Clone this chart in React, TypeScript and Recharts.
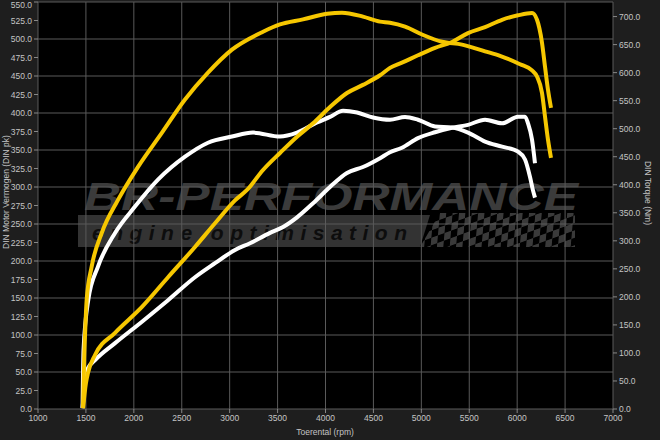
import React from 'react';
import { LineChart, Line, XAxis, YAxis, CartesianGrid } from 'recharts';

const stockPowerRpm = [1465, 1511, 1595, 1804, 2085, 2357, 2638, 2847, 3056, 3212, 3421, 3557, 3703, 3870, 4047, 4224, 4391, 4569, 4673, 4798, 4965, 5143, 5320, 5487, 5665, 5842, 6009, 6082, 6113, 6155, 6186];
const stockPowerPk = [1, 53, 66, 89, 118, 147, 178, 197, 215, 224, 238, 246, 259, 278, 300, 319, 327, 339, 347, 353, 366, 374, 380, 384, 391, 386, 395, 395, 386, 364, 332];

const stockTorqueRpm = [1465, 1475, 1525, 1626, 1804, 2012, 2252, 2534, 2774, 3024, 3244, 3525, 3703, 3911, 4047, 4183, 4329, 4496, 4673, 4830, 4965, 5143, 5320, 5487, 5665, 5842, 6009, 6082, 6134, 6165, 6186];
const stockTorqueNm = [2, 105, 195, 254, 314, 361, 409, 450, 475, 486, 493, 486, 493, 511, 521, 532, 529, 520, 516, 521, 516, 504, 502, 493, 477, 468, 459, 445, 414, 390, 377];

const tunedPowerRpm = [1470, 1500, 1522, 1595, 1804, 2085, 2357, 2638, 2847, 3056, 3181, 3348, 3525, 3703, 3870, 4047, 4224, 4391, 4569, 4673, 4798, 4965, 5143, 5320, 5487, 5665, 5842, 6009, 6155, 6207, 6259, 6291, 6322, 6353];
const tunedPowerPk = [1, 35, 49, 73, 103, 138, 178, 219, 251, 282, 296, 323, 346, 368, 386, 408, 427, 438, 451, 461, 468, 478, 488, 496, 508, 516, 526, 532, 535, 526, 495, 462, 431, 407];

const tunedTorqueRpm = [1470, 1482, 1495, 1508, 1560, 1665, 1835, 2044, 2294, 2534, 2774, 3024, 3348, 3525, 3765, 4016, 4172, 4391, 4569, 4673, 4830, 5007, 5216, 5425, 5665, 5821, 6030, 6155, 6207, 6259, 6291, 6322, 6353];
const tunedTorqueNm = [2, 90, 150, 195, 254, 314, 373, 432, 493, 552, 600, 641, 673, 686, 695, 705, 707, 700, 691, 689, 682, 668, 655, 650, 638, 630, 615, 604, 593, 564, 521, 480, 448];

const rpmTicks = [1000, 1500, 2000, 2500, 3000, 3500, 4000, 4500, 5000, 5500, 6000, 6500, 7000];
const pkTicks = [0, 25, 50, 75, 100, 125, 150, 175, 200, 225, 250, 275, 300, 325, 350, 375, 400, 425, 450, 475, 500, 525, 550];
const nmTicks = [0, 50, 100, 150, 200, 250, 300, 350, 400, 450, 500, 550, 600, 650, 700];

const toRows = (rpm: number[], v: number[]) => rpm.map((r, i) => ({ rpm: r, v: v[i] }));

const TXT = '#c4c4c4';
const FONT = '"Liberation Sans", Arial, sans-serif';
const tick = { fill: TXT, fontSize: 8.5, fontFamily: FONT };
const fmt = (v: number) => v.toFixed(1);

function Watermark() {
  return (
    <svg width={660} height={440} style={{ position: 'absolute', left: 0, top: 0 }}>
      <defs>
        <pattern id="chk" width="14" height="14" patternUnits="userSpaceOnUse" patternTransform="rotate(-20) skewX(-25)">
          <rect width="7" height="7" fill="#3a3a3a" />
          <rect x="7" y="7" width="7" height="7" fill="#3a3a3a" />
        </pattern>
      </defs>
      <text x={84} y={210} textLength={494} lengthAdjust="spacingAndGlyphs"
        fontFamily={FONT} fontStyle="italic" fontWeight={900} fontSize={38} fill="#3b3b3b">
        BR-PERFORMANCE
      </text>
      <polygon points="78,215 430,215 420,247 78,247" fill="#333" />
      <polygon points="440,213 575,213 575,247 420,247" fill="url(#chk)" />
      <text x={92} y={240} textLength={315} lengthAdjust="spacing"
        fontFamily={FONT} fontStyle="italic" fontWeight={700} fontSize={21} fill="#0d0d0d">
        engine optimisation
      </text>
      <text x={7} y={192} transform="rotate(-90 7 192)" textAnchor="middle" dominantBaseline="middle"
        fontFamily={FONT} fontSize={8.5} fill={TXT}>DIN Motor Vermogen (DIN pk)</text>
      <text x={647} y={193} transform="rotate(90 647 193)" textAnchor="middle" dominantBaseline="middle"
        fontFamily={FONT} fontSize={8.5} fill={TXT}>DIN Torque (Nm)</text>
      <text x={325} y={435} textAnchor="middle" fontFamily={FONT} fontSize={8.5} fill={TXT}>Toerental (rpm)</text>
    </svg>
  );
}

export default function App() {
  return (
    <div style={{ position: 'absolute', left: 0, top: 0, width: 660, height: 440, background: '#1e1e1e', overflow: 'hidden' }}>
      <div style={{ position: 'absolute', left: 38, top: 2, width: 575, height: 407, background: '#000' }} />
      <Watermark />
      <div style={{ position: 'absolute', left: 0, top: 0 }}>
        <LineChart width={660} height={440} margin={{ top: 2, right: 7, left: 8, bottom: 11 }}>
          <CartesianGrid yAxisId="pk" stroke="#5a5a5a" strokeWidth={1} />
          <XAxis type="number" dataKey="rpm" domain={[1000, 7000]} ticks={rpmTicks} allowDataOverflow
            height={20} tick={tick} tickLine={{ stroke: '#888' }} tickSize={4} axisLine={false} />
          <YAxis yAxisId="pk" orientation="left" domain={[0, 550]} ticks={pkTicks} width={30}
            tickFormatter={fmt} tick={tick} tickLine={{ stroke: '#888' }} tickSize={4} axisLine={false} />
          <YAxis yAxisId="nm" orientation="right" domain={[0, 726]} ticks={nmTicks} width={40}
            tickFormatter={fmt} tick={tick} tickLine={{ stroke: '#888' }} tickSize={4} axisLine={false} />
          <Line yAxisId="pk" data={toRows(stockPowerRpm, stockPowerPk)} dataKey="v" type="monotone"
            stroke="#ffffff" strokeWidth={4} dot={false} isAnimationActive={false} />
          <Line yAxisId="nm" data={toRows(stockTorqueRpm, stockTorqueNm)} dataKey="v" type="monotone"
            stroke="#ffffff" strokeWidth={4} dot={false} isAnimationActive={false} />
          <Line yAxisId="pk" data={toRows(tunedPowerRpm, tunedPowerPk)} dataKey="v" type="monotone"
            stroke="#f6c700" strokeWidth={4} dot={false} isAnimationActive={false} />
          <Line yAxisId="nm" data={toRows(tunedTorqueRpm, tunedTorqueNm)} dataKey="v" type="monotone"
            stroke="#f6c700" strokeWidth={4} dot={false} isAnimationActive={false} />
        </LineChart>
      </div>
    </div>
  );
}
